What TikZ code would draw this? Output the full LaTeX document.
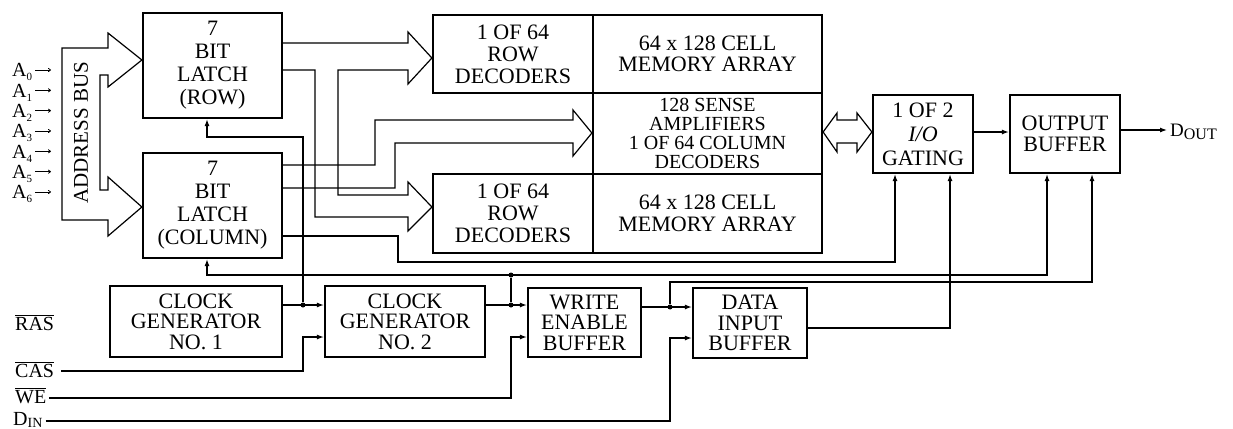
\documentclass[tikz,border=0pt]{standalone}
\usepackage{fontspec}
\setmainfont{Liberation Serif}
\usetikzlibrary{arrows.meta}
\begin{document}
\begin{tikzpicture}[x=1pt,y=-1pt,
 blk/.style={draw, line width=2.2pt, inner sep=0pt, align=center, font=\fontsize{22}{23}\selectfont},
 wire/.style={line width=1.2pt, line join=miter},
 arw/.style={-{Latex[length=7pt,width=5pt]}},
 barw/.style={{Latex[length=7pt,width=5pt]}-{Latex[length=7pt,width=5pt]}},
 jdot/.style={circle, fill, inner sep=0pt, minimum size=5pt},
 lbl/.style={inner sep=0pt, font=\fontsize{20}{20}\selectfont}]
\useasboundingbox (0,0) rectangle (1233,428);

% blocks
\node[blk, minimum width=139pt, minimum height=105pt] (rowlatch) at (212.5,65.5) {7\\BIT\\LATCH\\(ROW)};
\node[blk, minimum width=139pt, minimum height=105pt] (collatch) at (212.5,205.5) {7\\BIT\\LATCH\\(COLUMN)};
\node[blk, minimum width=160pt, minimum height=78pt, font=\fontsize{22}{22}\selectfont] (dec1) at (513,54) {1 OF 64\\ROW\\DECODERS};
\node[blk, minimum width=229pt, minimum height=78pt, font=\fontsize{22}{21.5}\selectfont] (mem1) at (707.5,54) {64 x 128 CELL\\MEMORY ARRAY};
\node[blk, minimum width=229pt, minimum height=81pt, font=\fontsize{20}{19}\selectfont] (sense) at (707.5,133.5) {128 SENSE\\AMPLIFIERS\\1 OF 64 COLUMN\\DECODERS};
\node[blk, minimum width=160pt, minimum height=79pt, font=\fontsize{22}{22}\selectfont] (dec2) at (513,213.5) {1 OF 64\\ROW\\DECODERS};
\node[blk, minimum width=229pt, minimum height=79pt, font=\fontsize{22}{21.5}\selectfont] (mem2) at (707.5,213.5) {64 x 128 CELL\\MEMORY ARRAY};
\node[blk, minimum width=100pt, minimum height=78pt, font=\fontsize{22}{24}\selectfont] (iog) at (923,134) {1 OF 2\\\textit{I/O}\\GATING};
\node[blk, minimum width=110pt, minimum height=78pt, font=\fontsize{22}{21}\selectfont] (outbuf) at (1065,134) {OUTPUT\\BUFFER};
\node[blk, minimum width=172pt, minimum height=71pt, font=\fontsize{22}{20.5}\selectfont] (cg1) at (196,321.5) {CLOCK\\GENERATOR\\NO. 1};
\node[blk, minimum width=160pt, minimum height=71pt, font=\fontsize{22}{20.5}\selectfont] (cg2) at (405,321.5) {CLOCK\\GENERATOR\\NO. 2};
\node[blk, minimum width=113pt, minimum height=69pt, font=\fontsize{22}{20.5}\selectfont] (web) at (584.5,322.5) {WRITE\\ENABLE\\BUFFER};
\node[blk, minimum width=114pt, minimum height=70pt, font=\fontsize{22}{20.5}\selectfont] (dib) at (750,323) {DATA\\INPUT\\BUFFER};

% labels
\foreach \i in {0,...,6} {
  \node[lbl, anchor=base west] (a\i) at (12,{77+20.33*\i}) {A\raisebox{-4pt}{\fontsize{11}{11}\selectfont\i}};
  \coordinate (as\i) at (35,{70+20.33*\i});
  \coordinate (ae\i) at (51,{70+20.33*\i});
  \draw[line width=0.8pt, -{To[length=3pt,width=4pt]}] (as\i) -- (ae\i);
}
\node[rotate=90, inner sep=0pt, font=\fontsize{21}{21}\selectfont] (abus) at (81,133) {ADDRESS BUS};
\node[lbl, anchor=base west] (ras) at (15,330) {$\overline{\hbox{RAS}}$};
\node[lbl, anchor=base west] (cas) at (15,377) {$\overline{\hbox{CAS}}$};
\node[lbl, anchor=base west] (we) at (15,403) {$\overline{\hbox{WE}}$};
\node[lbl, anchor=base west] (din) at (13,425) {D\raisebox{-2pt}{\fontsize{14}{14}\selectfont IN}};
\node[lbl, anchor=base west] (dout) at (1170,136) {\fontsize{19}{19}\selectfont D\raisebox{-3pt}{\fontsize{16}{16}\selectfont OUT}};

% address bus
\draw[wire] (62,48) -- (108,48) -- (108,33) -- (rowlatch.west|-0,60) -- (108,87) -- (108,75) -- (100,75) -- (100,190) -- (108,190) -- (108,177) -- (collatch.west|-0,207) -- (108,236) -- (108,220) -- (62,220) -- cycle;

% row bus
\draw[wire] (rowlatch.east|-0,43) -- (408,43) -- (408,32) -- (dec1.west|-0,58) -- (408,84) -- (408,70) -- (338,70) -- (338,195) -- (408,195) -- (408,182) -- (dec2.west|-0,207) -- (408,231) -- (408,217) -- (315,217) -- (315,70) -- (rowlatch.east|-0,70);

% column bus
\draw[wire] (collatch.east|-0,165) -- (375,165) -- (375,120) -- (573,120) -- (573,110) -- (sense.west|-0,133) -- (573,156) -- (573,143) -- (395,143) -- (395,188) -- (collatch.east|-0,188);

% bidirectional data bus
\draw[wire] (sense.east|-0,132) -- (837,113) -- (837,120) -- (857,120) -- (857,113) -- (iog.west|-0,132) -- (857,152) -- (857,143) -- (837,143) -- (837,152) -- cycle;

% wires
\draw[wire, arw] (iog.east|-0,132) -- (outbuf.west|-0,132);
\draw[wire, arw, shorten >=3pt] (outbuf.east|-0,130) -- (dout.west|-0,130);

\draw[wire, arw] (cg1.east|-0,305) -- (cg2.west|-0,305);
\node[jdot] (j1) at (303,305) {};
\draw[wire, arw] (j1) -- (303,137) -- (207,137) -- (207,0|-rowlatch.south);
\draw[wire, arw, shorten <=7pt] (cas.east|-0,371) -- (303,371) -- (303,337) -- (cg2.west|-0,337);

\draw[wire, barw] (207,0|-collatch.south) -- (207,275) -- (1047,275) -- (1047,0|-outbuf.south);
\node[jdot] (j2) at (511,275) {};
\draw[wire, arw] (cg2.east|-0,305) -- (web.west|-0,305);
\node[jdot] (j3) at (511,305) {};
\draw[wire] (j3) -- (j2);
\draw[wire, arw, shorten <=3pt] (we.east|-0,398) -- (511,398) -- (511,337) -- (web.west|-0,337);

\draw[wire, arw] (web.east|-0,307) -- (dib.west|-0,307);
\node[jdot] (j4) at (670,307) {};
\draw[wire, arw] (j4) -- (670,282) -- (1092,282) -- (1092,0|-outbuf.south);
\draw[wire, arw, shorten <=3pt] (din.east|-0,421) -- (670,421) -- (670,338) -- (dib.west|-0,338);
\draw[wire, arw] (dib.east|-0,328) -- (950,328) -- (950,0|-iog.south);
\draw[wire, arw] (collatch.east|-0,236) -- (398,236) -- (398,262) -- (895,262) -- (895,0|-iog.south);
\end{tikzpicture}
\end{document}
